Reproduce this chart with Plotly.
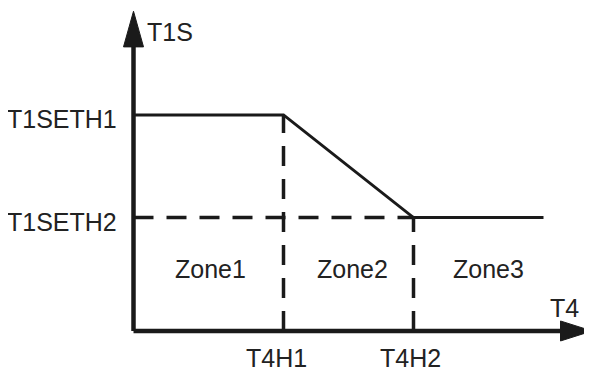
import plotly.graph_objects as go

# break points of the T1S curve (T4 on x, T1S on y)
t4_points = [0, 3.0, 5.6, 8.2]
t1s_points = [4.0, 4.0, 2.1, 2.1]

x_tick_vals = [3.0, 5.6]
x_tick_text = ["T4H1", "T4H2"]
y_tick_vals = [4.0, 2.1]
y_tick_text = ["T1SETH1", "T1SETH2"]

zone_labels = ["Zone1", "Zone2", "Zone3"]
zone_x = [1.53, 4.38, 7.1]
zone_y = 1.15

# axis extents
x_axis_end = 9.17
y_axis_end = 5.92

line_col = "#1a1a1a"
text_col = "#222222"
font = dict(family="Liberation Sans, Arial, sans-serif", size=25, color=text_col)

fig = go.Figure()

# axes lines
fig.add_trace(go.Scatter(x=[0, 0], y=[0, 5.3], mode="lines",
                         line=dict(color=line_col, width=4.5), hoverinfo="skip"))
fig.add_trace(go.Scatter(x=[0, 8.6], y=[0, 0], mode="lines",
                         line=dict(color=line_col, width=4.5), hoverinfo="skip"))
# arrow heads
fig.add_trace(go.Scatter(x=[-0.2, 0, 0.2, -0.2], y=[5.26, y_axis_end, 5.26, 5.26],
                         mode="lines", fill="toself", fillcolor=line_col,
                         line=dict(color=line_col, width=1), hoverinfo="skip"))
fig.add_trace(go.Scatter(x=[8.54, x_axis_end, 8.54, 8.54], y=[-0.185, 0, 0.185, -0.185],
                         mode="lines", fill="toself", fillcolor=line_col,
                         line=dict(color=line_col, width=1), hoverinfo="skip"))

# dashed guides
dash = "20px,13px"
fig.add_trace(go.Scatter(x=[0, x_tick_vals[1]], y=[y_tick_vals[1], y_tick_vals[1]], mode="lines",
                         line=dict(color=line_col, width=3.5, dash=dash), hoverinfo="skip"))
fig.add_trace(go.Scatter(x=[x_tick_vals[0], x_tick_vals[0]], y=[0, y_tick_vals[0]], mode="lines",
                         line=dict(color=line_col, width=3.5, dash=dash), hoverinfo="skip"))
fig.add_trace(go.Scatter(x=[x_tick_vals[1], x_tick_vals[1]], y=[0, y_tick_vals[1]], mode="lines",
                         line=dict(color=line_col, width=3.5, dash=dash), hoverinfo="skip"))

# the curve
fig.add_trace(go.Scatter(x=t4_points, y=t1s_points, mode="lines",
                         line=dict(color=line_col, width=3), hoverinfo="skip"))

ann = []
for v, t in zip(y_tick_vals, y_tick_text):
    ann.append(dict(x=0, y=v, text=t, showarrow=False, xanchor="right", yanchor="middle",
                    xshift=-15, yshift=-4, font=font))
for v, t, sh in zip(x_tick_vals, x_tick_text, [-7, -3]):
    ann.append(dict(x=v, y=0, text=t, showarrow=False, xanchor="center", yanchor="middle",
                    xshift=sh, yshift=-27, font=font))
for zx, t in zip(zone_x, zone_labels):
    ann.append(dict(x=zx, y=zone_y, text=t, showarrow=False, xanchor="center", yanchor="middle",
                    font=font))
ann.append(dict(x=0, y=y_axis_end, text="T1S", showarrow=False, xanchor="left", yanchor="middle",
                xshift=11, yshift=-21, font=font))
ann.append(dict(x=x_axis_end, y=0, text="T4", showarrow=False, xanchor="center", yanchor="middle",
                xshift=-28, yshift=23, font=font))

# page body adds an 8px margin, so the figure is 8px smaller than the window
fig.update_layout(
    width=584, height=361,
    margin=dict(l=0, r=0, t=0, b=0),
    paper_bgcolor="white", plot_bgcolor="white",
    showlegend=False,
    annotations=ann,
    xaxis=dict(range=[-2.51, 9.17], visible=False, fixedrange=True),
    yaxis=dict(range=[-0.704, 5.98], visible=False, fixedrange=True),
)

fig.write_html("out.html")
